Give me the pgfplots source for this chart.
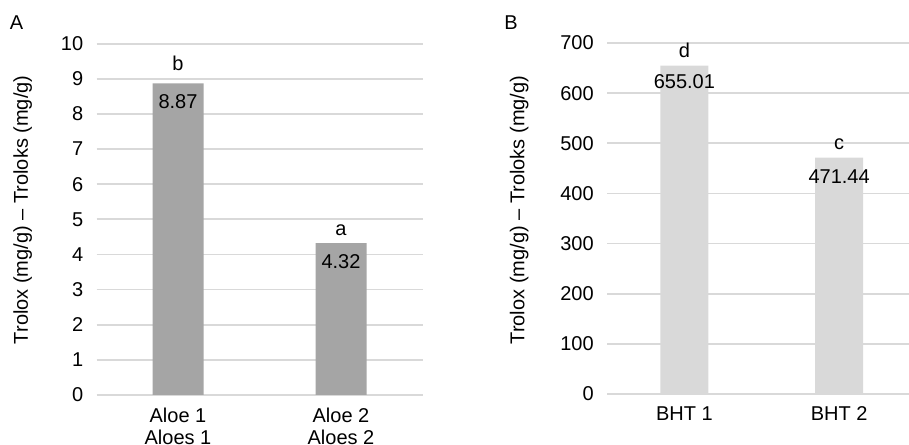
\documentclass[border=0pt]{standalone}
\usepackage{fontspec}
\setmainfont{Liberation Sans}
\usepackage{pgfplots}
\pgfplotsset{compat=1.18}
\definecolor{barA}{HTML}{A5A5A5}
\definecolor{barB}{HTML}{D9D9D9}
\definecolor{gridc}{HTML}{D9D9D9}
\newcommand{\cf}{\fontsize{15}{16.5}\selectfont}
\pgfplotsset{
  myax/.style={
    scale only axis, anchor=south west,
    ybar, xmin=-0.5, xmax=1.5, ymin=0,
    xtick={0,1},
    axis line style={draw=none},
    tick style={draw=none}, major tick length=0pt,
    ymajorgrids, major grid style={gridc, line width=1.3pt},
    /pgf/number format/assume math mode=true,
    tick label style={font=\cf, text=black},
    yticklabel style={inner sep=0pt, anchor=east, xshift=-9.75pt},
    xticklabel style={inner sep=0pt, anchor=north, yshift=-9.5pt, align=center},
    label style={font=\cf},
    ylabel={Trolox (mg/g) -- Troloks (mg/g)},
  }
}
\begin{document}
\begin{tikzpicture}
\path[use as bounding box] (0,0) rectangle (681.75pt,333.75pt);
\node[font=\cf] at (12.4pt,316.5pt) {A};
\node[font=\cf] at (383.25pt,316.5pt) {B};
\begin{axis}[myax,
  at={(72.375pt,37.5pt)}, width=244.5pt, height=263.5pt,
  bar width=38.25pt, ymax=10, ytick={0,1,...,10},
  xticklabels={{Aloe 1\\Aloes 1},{Aloe 2\\Aloes 2}},
  ylabel style={at={(axis description cs:-0.226,0.527)}, anchor=center},
]
\addplot[fill=barA, draw=none] coordinates {(0,8.87) (1,4.32)};
\node[font=\cf, anchor=center, yshift=-13.5pt] at (axis cs:0,8.87) {8.87};
\node[font=\cf, anchor=center, yshift=-13.5pt] at (axis cs:1,4.32) {4.32};
\node[font=\cf, anchor=base, yshift=9.75pt] at (axis cs:0,8.87) {b};
\node[font=\cf, anchor=base, yshift=6pt] at (axis cs:1,4.32) {a};
\end{axis}
\begin{axis}[myax,
  at={(455.25pt,38.25pt)}, width=232.1pt, height=263.25pt,
  bar width=36pt, ymax=700, ytick={0,100,...,700},
  xticklabels={BHT 1,BHT 2},
  ylabel style={at={(axis description cs:-0.284,0.524)}, anchor=center},
]
\addplot[fill=barB, draw=none] coordinates {(0,655.01) (1,471.44)};
\node[font=\cf, anchor=center, yshift=-12pt] at (axis cs:0,655.01) {655.01};
\node[font=\cf, anchor=center, yshift=-14pt] at (axis cs:1,471.44) {471.44};
\node[font=\cf, anchor=base, yshift=6pt] at (axis cs:0,655.01) {d};
\node[font=\cf, anchor=base, yshift=6pt] at (axis cs:1,471.44) {c};
\end{axis}
\end{tikzpicture}
\end{document}
